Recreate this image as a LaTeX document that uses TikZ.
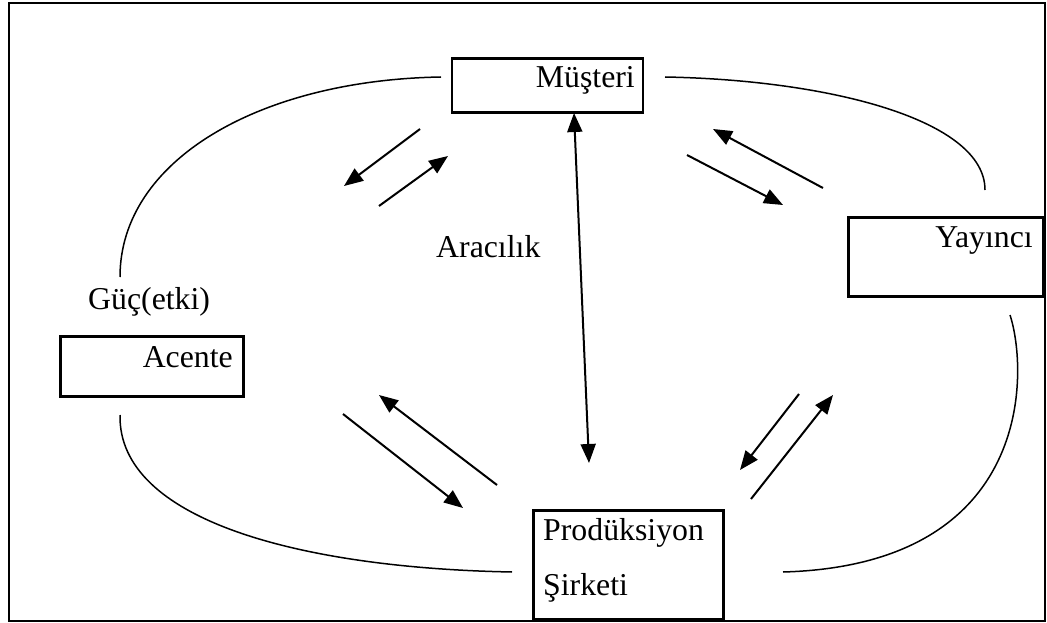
\documentclass[tikz,border=0pt]{standalone}
\usepackage{fontspec}
\setmainfont{Liberation Serif}
\usetikzlibrary{arrows.meta}
\begin{document}
\begin{tikzpicture}[x=1pt,y=-1pt,
  box/.style={draw,line width=2.5pt,inner sep=0pt},
  lbl/.style={inner sep=0pt,font=\fontsize{31.8}{36}\selectfont},
  arc/.style={line width=1.5pt},
  tip/.style={},
  flow/.style={line width=2pt,-{Triangle[length=19pt,width=15pt]}},
  both/.style={line width=2pt,{Triangle[length=19pt,width=15pt]}-{Triangle[length=19pt,width=15pt]}}]
\useasboundingbox (0,0) rectangle (1047,623);
% outer frame
\draw[line width=2.5pt] (9,3) rectangle (1045,621);

% boxes
\node[box,minimum width=191pt,minimum height=54pt] (mus) at (547.5,85.5) {};
\node[lbl,anchor=base east] (musT) at (635,88) {Müşteri};
\node[box,minimum width=195pt,minimum height=79pt] (yay) at (946,257) {};
\node[lbl,anchor=base east] (yayT) at (1033,247) {Yayıncı};
\node[box,minimum width=183pt,minimum height=60pt] (ace) at (152,366.5) {};
\node[lbl,anchor=base east] (aceT) at (233,367) {Acente};
\node[box,minimum width=190pt,minimum height=109pt] (pro) at (628.5,565) {};
\node[lbl,anchor=base west] (proT1) at (543,540) {Prodüksiyon};
\node[lbl,anchor=base west] (proT2) at (543,595) {Şirketi};

% free labels
\node[lbl,anchor=base west] (arac) at (436,257) {Aracılık};
\node[lbl,anchor=base west] (guc) at (88,309) {Güç(etki)};

% arc end points
\coordinate (tl1) at (120,277);
\coordinate (tl2) at (441,77);
\coordinate (tr1) at (665,77);
\coordinate (tr2) at (985,190);
\coordinate (rb1) at (1010,315);
\coordinate (rb2) at (783,572);
\coordinate (bl1) at (120,415);
\coordinate (bl2) at (512,572);

\draw[arc] (tl1) .. controls (120,160) and (260,80) .. (tl2);
\draw[arc] (tr1) .. controls (830,80) and (985,120) .. (tr2);
\draw[arc] (rb1) .. controls (1028,370) and (1035,565) .. (rb2);
\draw[arc] (bl1) .. controls (118,520) and (300,568) .. (bl2);

% flow arrows
\coordinate (a1s) at (420,129); \coordinate (a1e) at (344,186);
\coordinate (a2s) at (379,206); \coordinate (a2e) at (448,156);
\coordinate (a3s) at (823,188); \coordinate (a3e) at (713,129);
\coordinate (a4s) at (687,155); \coordinate (a4e) at (783,205);
\coordinate (a5s) at (497,485); \coordinate (a5e) at (379,395);
\coordinate (a6s) at (343,414); \coordinate (a6e) at (463,508);
\coordinate (a7s) at (799,394); \coordinate (a7e) at (740,470);
\coordinate (a8s) at (751,499); \coordinate (a8e) at (833,395);
\draw[flow] (a1s) -- (a1e);
\draw[flow] (a2s) -- (a2e);
\draw[flow] (a3s) -- (a3e);
\draw[flow] (a4s) -- (a4e);
\draw[flow] (a5s) -- (a5e);
\draw[flow] (a6s) -- (a6e);
\draw[flow] (a7s) -- (a7e);
\draw[flow] (a8s) -- (a8e);

% direct link between customer and production
\coordinate (vtop) at (574,113);
\coordinate (vbot) at (589,463);
\draw[both] (vtop) -- (vbot);
\end{tikzpicture}
\end{document}
